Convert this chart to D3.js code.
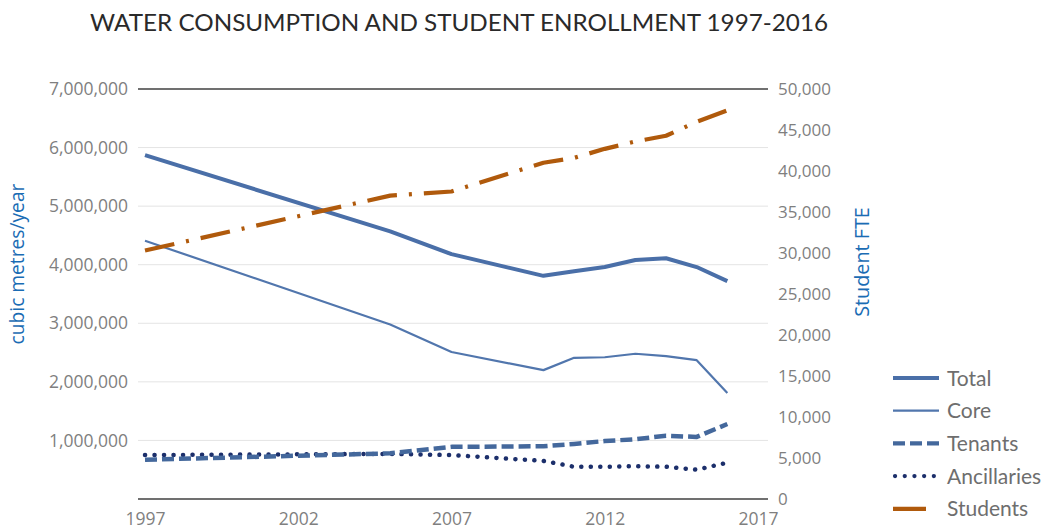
<!DOCTYPE html>
<html>
<head>
<meta charset="utf-8">
<script src="https://cdn.jsdelivr.net/npm/d3@7"></script>
<style>
  html, body { margin: 0; padding: 0; background: #fff; }
  svg { display: block; }
</style>
</head>
<body>
<svg id="chart" width="1046" height="531"></svg>
<script>
// Reporting years (fiscal data available for these years)
const years = [1997, 2005, 2007, 2010, 2011, 2012, 2013, 2014, 2015, 2016];

// Water consumption, cubic metres per year
const total       = [5870000, 4570000, 4180000, 3810000, 3890000, 3960000, 4080000, 4110000, 3960000, 3720000];
const core        = [4410000, 2980000, 2510000, 2200000, 2410000, 2420000, 2480000, 2440000, 2370000, 1810000];
const tenants     = [670000, 780000, 890000, 900000, 940000, 990000, 1020000, 1080000, 1060000, 1280000];
const ancillaries = [750000, 770000, 750000, 650000, 550000, 550000, 560000, 550000, 500000, 620000];

// Student enrollment, full-time equivalents
const students    = [30300, 37000, 37500, 41000, 41600, 42700, 43600, 44300, 46000, 47400];

// Axis ticks
const xTicks = [1997, 2002, 2007, 2012, 2017];
const leftTicks = [1000000, 2000000, 3000000, 4000000, 5000000, 6000000, 7000000];
const rightTicks = [0, 5000, 10000, 15000, 20000, 25000, 30000, 35000, 40000, 45000, 50000];

const titleText = "WATER CONSUMPTION AND STUDENT ENROLLMENT 1997-2016";
const leftTitle = "cubic metres/year";
const rightTitle = "Student FTE";

const svg = d3.select("#chart");
const plot = { left: 138, right: 768, top: 89, bottom: 499 };

const x = d3.scaleLinear().domain([1997, 2017]).range([145, 758]);
const yL = d3.scaleLinear().domain([0, 7000000]).range([plot.bottom, plot.top]);
const yR = d3.scaleLinear().domain([0, 50000]).range([plot.bottom, plot.top]);

const fmt = d3.format(",");
const tickColor = "#7f7f7f";
const titleBlue = "#1a6cb4";

// Title
svg.append("text")
  .attr("x", 90).attr("y", 31)
  .attr("textLength", 738).attr("lengthAdjust", "spacingAndGlyphs")
  .style("font-family", "Lato, 'Open Sans', sans-serif")
  .style("font-size", "23px")
  .style("fill", "#2a2a2a")
  .text(titleText);

// Horizontal gridlines
svg.append("g")
  .selectAll("line")
  .data(leftTicks.filter(d => d < 7000000))
  .join("line")
  .attr("x1", plot.left).attr("x2", plot.right)
  .attr("y1", d => yL(d)).attr("y2", d => yL(d))
  .attr("stroke", "#e4e4e4").attr("stroke-width", 1);

// Frame lines top and bottom
[plot.top, plot.bottom].forEach(yy => {
  svg.append("line")
    .attr("x1", plot.left).attr("x2", plot.right)
    .attr("y1", yy).attr("y2", yy)
    .attr("stroke", "#404040").attr("stroke-width", 1.3);
});

// Left axis
const leftAxis = d3.axisLeft(yL).tickValues(leftTicks).tickFormat(fmt).tickSize(0).tickPadding(10);
const gL = svg.append("g").attr("transform", `translate(${plot.left},0)`).call(leftAxis);
gL.select(".domain").remove();
gL.selectAll("text")
  .style("font-family", "'Open Sans', sans-serif")
  .style("font-size", "17.5px")
  .style("fill", tickColor);

// Right axis
const rightAxis = d3.axisRight(yR).tickValues(rightTicks).tickFormat(fmt).tickSize(0).tickPadding(10);
const gR = svg.append("g").attr("transform", `translate(${plot.right},0)`).call(rightAxis);
gR.select(".domain").remove();
gR.selectAll("text")
  .style("font-family", "'Open Sans', sans-serif")
  .style("font-size", "17px")
  .style("fill", tickColor);

// Bottom axis
const bottomAxis = d3.axisBottom(x).tickValues(xTicks).tickFormat(d3.format("d")).tickSize(0).tickPadding(14);
const gB = svg.append("g").attr("transform", `translate(0,${plot.bottom})`).call(bottomAxis);
gB.select(".domain").remove();
gB.selectAll("text")
  .style("font-family", "'Open Sans', sans-serif")
  .style("font-size", "17.5px")
  .style("fill", tickColor);

// Axis titles
svg.append("text")
  .attr("transform", `translate(24,264) rotate(-90)`)
  .attr("text-anchor", "middle")
  .style("font-family", "'Open Sans', sans-serif")
  .style("font-size", "19.2px")
  .style("fill", titleBlue)
  .text(leftTitle);

svg.append("text")
  .attr("transform", `translate(869,262) rotate(-90)`)
  .attr("text-anchor", "middle")
  .style("font-family", "'Open Sans', sans-serif")
  .style("font-size", "19.8px")
  .style("fill", titleBlue)
  .text(rightTitle);

// Series definitions
const series = [
  { name: "Total", values: total, scale: yL, color: "#4a6fa8", width: 4, dash: null, cap: "butt" },
  { name: "Core", values: core, scale: yL, color: "#5176ad", width: 2.2, dash: null, cap: "butt" },
  { name: "Tenants", values: tenants, scale: yL, color: "#44689c", width: 4.5, dash: "12 5", cap: "butt" },
  { name: "Ancillaries", values: ancillaries, scale: yL, color: "#1c2f6b", width: 4.5, dash: "0.1 9.4", cap: "round" },
  { name: "Students", values: students, scale: yR, color: "#b05a0c", width: 4.2, dash: "30 12 3 12", cap: "butt" }
];

const drawOrder = ["Ancillaries", "Tenants", "Core", "Total", "Students"];
drawOrder.forEach(n => {
  const s = series.find(d => d.name === n);
  const line = d3.line()
    .x((d, i) => x(years[i]))
    .y(d => s.scale(d));
  svg.append("path")
    .datum(s.values)
    .attr("d", line)
    .attr("fill", "none")
    .attr("stroke", s.color)
    .attr("stroke-width", s.width)
    .attr("stroke-linecap", s.cap)
    .attr("stroke-linejoin", "round")
    .attr("stroke-dasharray", s.dash);
});

// Legend
const legend = svg.append("g").attr("transform", "translate(893,378)");
series.forEach((s, i) => {
  const g = legend.append("g").attr("transform", `translate(0,${i * 32.7})`);
  g.append("line")
    .attr("x1", s.name === "Ancillaries" ? 2 : 0)
    .attr("x2", s.name === "Students" ? 33 : 46)
    .attr("y1", 0).attr("y2", 0)
    .attr("stroke", s.color)
    .attr("stroke-width", s.name === "Core" ? 2.2 : 4.2)
    .attr("stroke-linecap", s.cap)
    .attr("stroke-dasharray", s.name === "Ancillaries" ? "0.1 9.6" : (s.name === "Students" ? null : s.dash));
  g.append("text")
    .attr("x", 54).attr("y", 0).attr("dy", "0.36em")
    .style("font-family", "Lato, 'Open Sans', sans-serif")
    .style("font-size", "21px")
    .style("fill", "#6e6e6e")
    .text(s.name);
});
</script>
</body>
</html>
